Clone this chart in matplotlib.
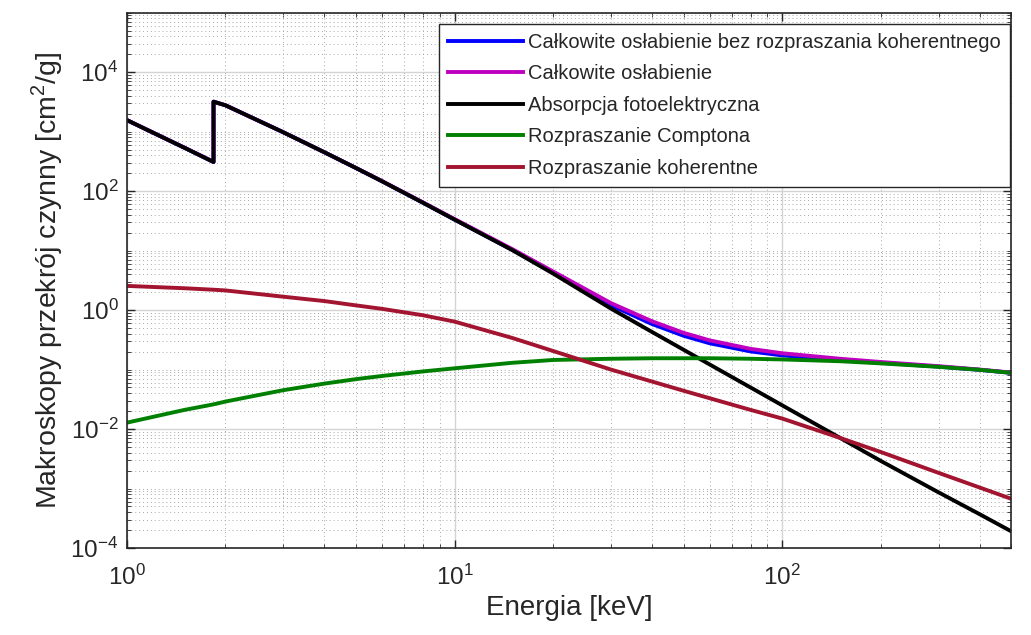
import matplotlib
matplotlib.use('Agg')
import matplotlib.pyplot as plt
import matplotlib.ticker as mticker
import numpy as np

plt.rcParams['font.family'] = ['Liberation Sans', 'DejaVu Sans']
plt.rcParams['mathtext.fontset'] = 'custom'
plt.rcParams['mathtext.rm'] = 'Liberation Sans'

# Energy [keV] (K-edge of Si repeated)
energy = [1, 1.5, 1.839, 1.839, 2, 3, 4, 5, 6, 8, 10, 15, 20, 30, 40, 50, 60, 80,
          100, 150, 200, 300, 400, 500]

photo = [1567, 535, 309, 3190, 2774, 978, 452, 245, 147, 64, 33.2, 10.2, 4.1, 1.06,
         0.43, 0.215, 0.122, 0.05, 0.025, 0.0071, 0.0029, 0.00086, 0.00037, 0.00019]

coherent = [2.55, 2.33, 2.2, 2.2, 2.14, 1.68, 1.42, 1.2, 1.05, 0.82, 0.64, 0.34, 0.205,
            0.10, 0.063, 0.044, 0.033, 0.021, 0.015, 0.0071, 0.0041, 0.00183, 0.00104,
            0.00067]

compton = [0.0128, 0.021, 0.026, 0.026, 0.029, 0.045, 0.058, 0.069, 0.078, 0.093,
           0.105, 0.13, 0.145, 0.152, 0.155, 0.155, 0.155, 0.152, 0.148, 0.138, 0.127,
           0.111, 0.099, 0.088]

total_no_coh = [1567, 535, 309, 3190, 2774, 978, 452, 245, 147, 64.1, 33.3, 10.3, 4.25,
                1.21, 0.584, 0.37, 0.277, 0.202, 0.173, 0.145, 0.13, 0.112, 0.099, 0.088]

total = [1570, 537, 311, 3192, 2776, 980, 453, 246, 148, 64.9, 33.9, 10.6, 4.45, 1.31,
         0.65, 0.414, 0.31, 0.223, 0.188, 0.152, 0.134, 0.114, 0.100, 0.089]

labels = ['Całkowite osłabienie bez rozpraszania koherentnego',
          'Całkowite osłabienie',
          'Absorpcja fotoelektryczna',
          'Rozpraszanie Comptona',
          'Rozpraszanie koherentne']

fig = plt.figure(figsize=(10.31, 6.35), dpi=100)
ax = fig.add_axes([0.123, 0.137, 0.858, 0.843])

lw = 2.8
ax.plot(energy, total_no_coh, color='#0000ff', lw=lw, label=labels[0])
ax.plot(energy, total, color='#c000c0', lw=lw, label=labels[1])
ax.plot(energy, photo, color='black', lw=lw, label=labels[2])
ax.plot(energy, compton, color='#008000', lw=lw, label=labels[3])
ax.plot(energy, coherent, color='#a2142f', lw=lw, label=labels[4])

ax.set_xscale('log')
ax.set_yscale('log')
ax.set_xlim(1, 500)
ax.set_ylim(1e-4, 1e5)

ax.xaxis.set_major_locator(mticker.FixedLocator([1, 10, 100]))
ax.yaxis.set_major_locator(mticker.FixedLocator([1e-4, 1e-2, 1, 1e2, 1e4]))
ax.xaxis.set_major_formatter(mticker.LogFormatterSciNotation())
ax.yaxis.set_major_formatter(mticker.LogFormatterSciNotation())
ax.xaxis.set_minor_locator(mticker.LogLocator(base=10, subs=np.arange(1, 10), numticks=50))
ax.yaxis.set_minor_locator(mticker.LogLocator(base=10, subs=np.arange(1, 10), numticks=50))
ax.xaxis.set_minor_formatter(mticker.NullFormatter())
ax.yaxis.set_minor_formatter(mticker.NullFormatter())

ax.tick_params(which='both', direction='in', top=True, right=True, labelsize=17.5,
               colors='#262626', labelcolor='#262626')
ax.tick_params(which='major', length=6, width=1)
ax.tick_params(which='minor', length=3, width=0.6)
ax.tick_params(axis='x', pad=12)
ax.tick_params(axis='y', pad=6)

ax.grid(True, which='major', color='#d4d4d4', lw=1.0, ls='-')
ax.grid(True, which='minor', color='#a8a8a8', lw=0.7, ls=(0, (1, 3)))
ax.set_axisbelow(True)
for s in ax.spines.values():
    s.set_linewidth(1.2)
    s.set_color('#262626')

ax.set_xlabel('Energia [keV]', fontsize=20, color='#262626', labelpad=4)
ax.set_ylabel('Makroskopy przekrój czynny [cm$^2$/g]', fontsize=20.5, color='#262626',
              labelpad=4)

leg = ax.legend(loc='upper right', bbox_to_anchor=(0.998, 0.979), fontsize=14.5,
                handlelength=3.7, handletextpad=0.25, labelspacing=0.62,
                borderaxespad=0, borderpad=0.45, fancybox=False,
                framealpha=1, edgecolor='#262626')
leg.get_frame().set_linewidth(1.0)
for t in leg.get_texts():
    t.set_color('#262626')

fig.savefig('out.png', dpi=100)
